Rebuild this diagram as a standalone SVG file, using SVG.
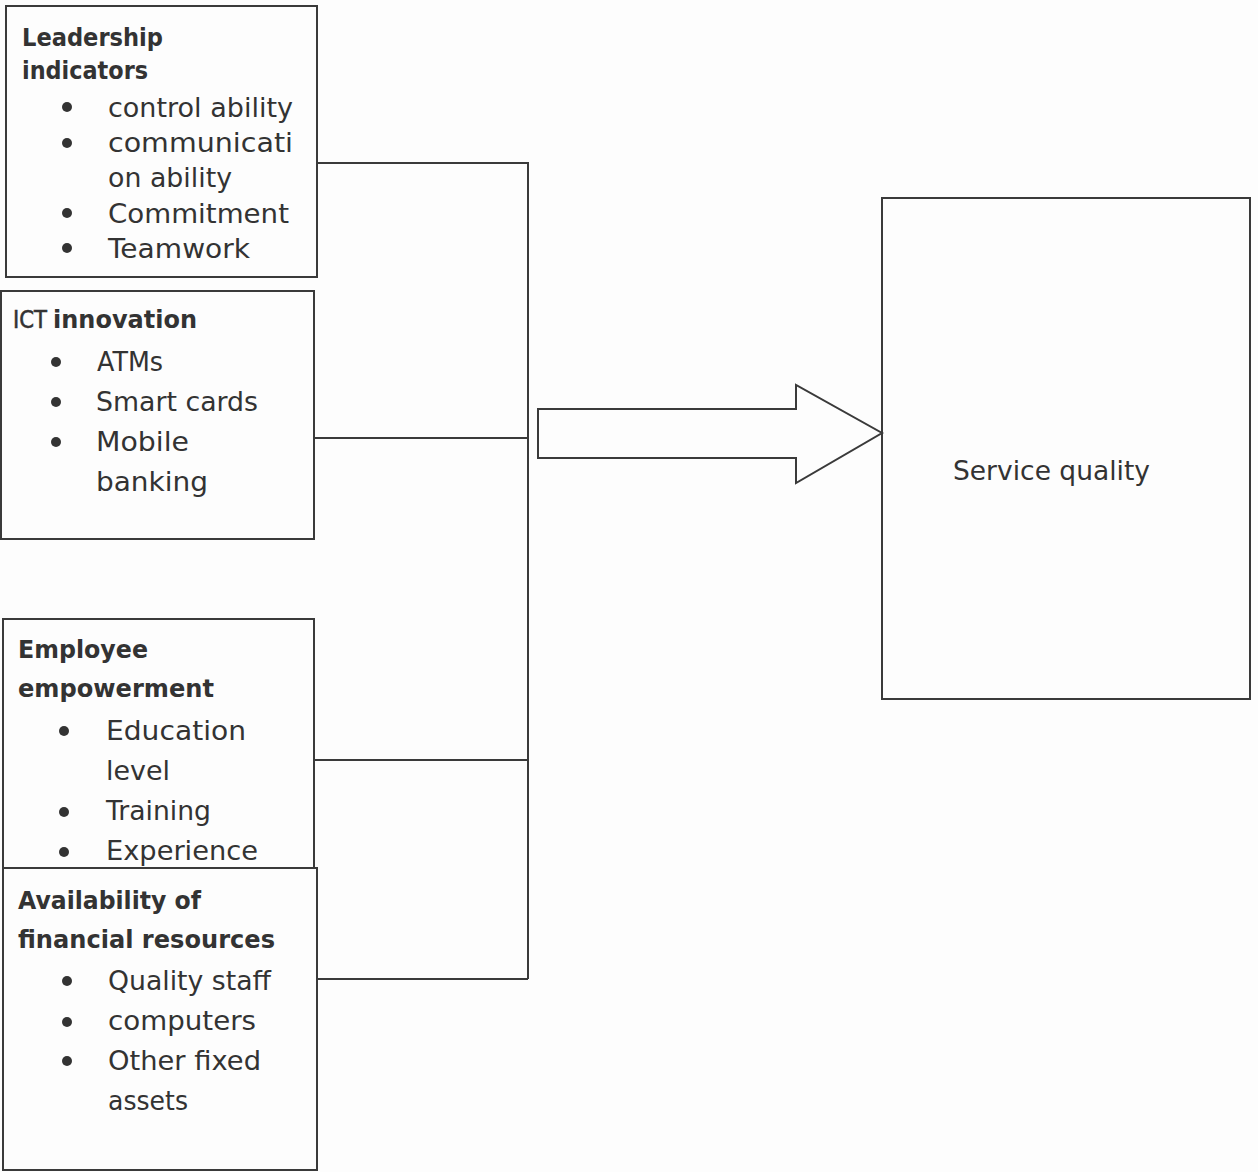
<svg xmlns="http://www.w3.org/2000/svg" width="1258" height="1172" viewBox="0 0 1258 1172">
<style>
.box{fill:none;stroke:#3a3a3a;stroke-width:2}
.conn{fill:none;stroke:#3a3a3a;stroke-width:2}
.h{font-family:"DejaVu Sans","Liberation Sans",sans-serif;font-weight:bold;font-size:25px;fill:#333}
.r{font-family:"DejaVu Sans","Liberation Sans",sans-serif;font-size:27px;fill:#333}
.m{font-family:"DejaVu Sans","Liberation Sans",sans-serif;font-size:25px;fill:#333;stroke:#333;stroke-width:0.6}
.b{fill:#333}
</style>
<rect width="1258" height="1172" fill="#fdfdfd"/>
<g id="connectors">
<polyline class="conn" points="317,163 528,163 528,979"/>
<line class="conn" x1="314" y1="438" x2="528" y2="438"/>
<line class="conn" x1="314" y1="760" x2="528" y2="760"/>
<line class="conn" x1="317" y1="979" x2="528" y2="979"/>
<polygon class="conn" points="538,409 796,409 796,385 882,433 796,483 796,458 538,458"/>
</g>
<g id="leadership">
<rect class="box" x="6" y="6" width="311" height="271"/>
<text class="h" x="22" y="46" textLength="141" lengthAdjust="spacingAndGlyphs">Leadership</text>
<text class="h" x="22" y="79" textLength="126" lengthAdjust="spacingAndGlyphs">indicators</text>
<circle class="b" cx="67" cy="107" r="5"/>
<text class="r" x="108" y="117" textLength="185" lengthAdjust="spacingAndGlyphs">control ability</text>
<circle class="b" cx="67" cy="143" r="5"/>
<text class="r" x="108" y="152" textLength="185" lengthAdjust="spacingAndGlyphs">communicati</text>
<text class="r" x="108" y="187" textLength="124" lengthAdjust="spacingAndGlyphs">on ability</text>
<circle class="b" cx="67" cy="213" r="5"/>
<text class="r" x="108" y="223" textLength="181" lengthAdjust="spacingAndGlyphs">Commitment</text>
<circle class="b" cx="67" cy="248" r="5"/>
<text class="r" x="108" y="258" textLength="142" lengthAdjust="spacingAndGlyphs">Teamwork</text>
</g>
<g id="ict">
<rect class="box" x="1" y="291" width="313" height="248"/>
<text class="m" x="13" y="328" textLength="34" lengthAdjust="spacingAndGlyphs">ICT</text>
<text class="h" x="53" y="328" textLength="144" lengthAdjust="spacingAndGlyphs">innovation</text>
<circle class="b" cx="56" cy="362" r="5"/>
<text class="r" x="97" y="371" textLength="66" lengthAdjust="spacingAndGlyphs">ATMs</text>
<circle class="b" cx="56" cy="402" r="5"/>
<text class="r" x="96" y="411" textLength="162" lengthAdjust="spacingAndGlyphs">Smart cards</text>
<circle class="b" cx="56" cy="442" r="5"/>
<text class="r" x="96" y="451" textLength="93" lengthAdjust="spacingAndGlyphs">Mobile</text>
<text class="r" x="96" y="491" textLength="112" lengthAdjust="spacingAndGlyphs">banking</text>
</g>
<g id="employee">
<rect class="box" x="3" y="619" width="311" height="249"/>
<text class="h" x="18" y="658" textLength="130" lengthAdjust="spacingAndGlyphs">Employee</text>
<text class="h" x="18" y="697" textLength="196" lengthAdjust="spacingAndGlyphs">empowerment</text>
<circle class="b" cx="64" cy="731" r="5"/>
<text class="r" x="106" y="740" textLength="140" lengthAdjust="spacingAndGlyphs">Education</text>
<text class="r" x="106" y="780" textLength="64" lengthAdjust="spacingAndGlyphs">level</text>
<circle class="b" cx="64" cy="812" r="5"/>
<text class="r" x="106" y="820" textLength="105" lengthAdjust="spacingAndGlyphs">Training</text>
<circle class="b" cx="64" cy="852" r="5"/>
<text class="r" x="106" y="860" textLength="152" lengthAdjust="spacingAndGlyphs">Experience</text>
</g>
<g id="financial">
<rect class="box" x="3" y="868" width="314" height="302"/>
<text class="h" x="18" y="909" textLength="183" lengthAdjust="spacingAndGlyphs">Availability of</text>
<text class="h" x="18" y="948" textLength="257" lengthAdjust="spacingAndGlyphs">financial resources</text>
<circle class="b" cx="67" cy="981" r="5"/>
<text class="r" x="108" y="990" textLength="163" lengthAdjust="spacingAndGlyphs">Quality staff</text>
<circle class="b" cx="67" cy="1022" r="5"/>
<text class="r" x="108" y="1030" textLength="148" lengthAdjust="spacingAndGlyphs">computers</text>
<circle class="b" cx="67" cy="1061" r="5"/>
<text class="r" x="108" y="1070" textLength="153" lengthAdjust="spacingAndGlyphs">Other fixed</text>
<text class="r" x="108" y="1110" textLength="80" lengthAdjust="spacingAndGlyphs">assets</text>
</g>
<g id="service">
<rect class="box" x="882" y="198" width="368" height="501"/>
<text class="r" x="953" y="480" textLength="197" lengthAdjust="spacingAndGlyphs">Service quality</text>
</g>
</svg>
